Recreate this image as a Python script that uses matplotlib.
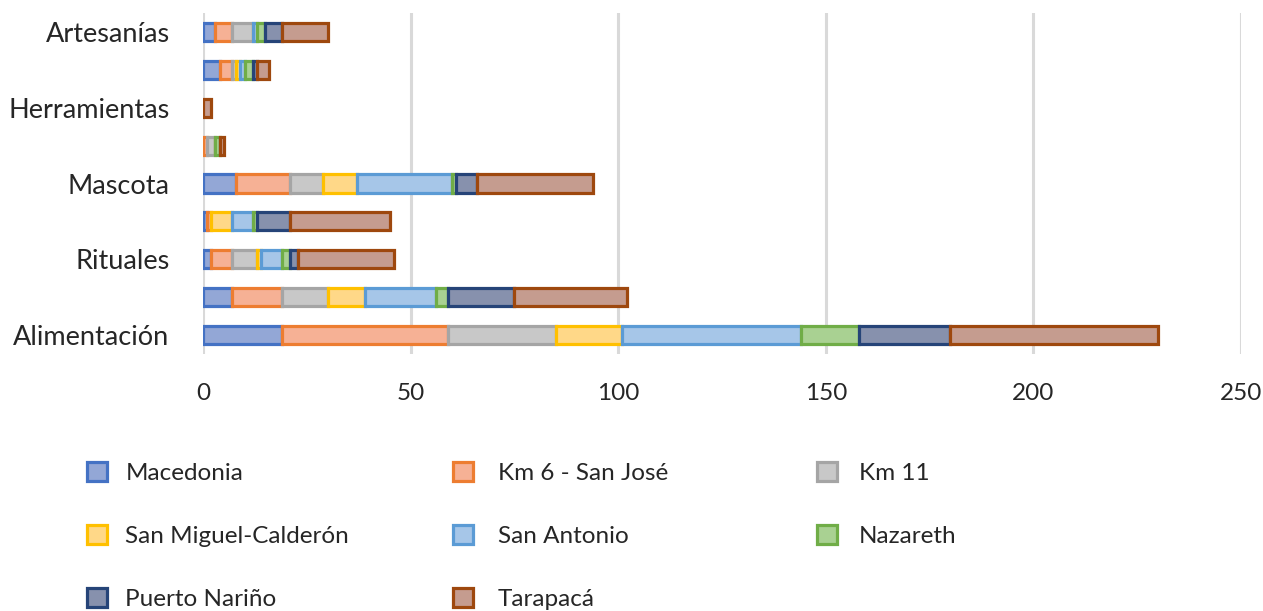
import numpy as np
from matplotlib import pyplot as plt

plt.rcParams['font.family'] = ['Lato', 'DejaVu Sans']

# categorias de abajo hacia arriba (solo se rotulan algunas)
categorias = ['Alimentación', '', 'Rituales', '', 'Mascota', '', 'Herramientas', '', 'Artesanías']

series = ['Macedonia', 'Km 6 - San José', 'Km 11', 'San Miguel-Calderón',
          'San Antonio', 'Nazareth', 'Puerto Nariño', 'Tarapacá']

macedonia = [19, 7, 2, 1, 8, 0, 0, 4, 3]
km6 = [40, 12, 5, 1, 13, 1, 0, 3, 4]
km11 = [26, 11, 6, 0, 8, 2, 0, 1, 5]
san_miguel = [16, 9, 1, 5, 8, 0, 0, 1, 0]
san_antonio = [43, 17, 5, 5, 23, 0, 0, 1, 1]
nazareth = [14, 3, 2, 1, 1, 1, 0, 2, 2]
puerto_narino = [22, 16, 2, 8, 5, 0, 0, 1, 4]
tarapaca = [50, 27, 23, 24, 28, 1, 2, 3, 11]

valores = [macedonia, km6, km11, san_miguel, san_antonio, nazareth, puerto_narino, tarapaca]

bordes = ['#4472C4', '#ED7D31', '#A5A5A5', '#FFC000', '#5B9BD5', '#70AD47', '#264478', '#9E480E']
rellenos = ['#93A7D6', '#F6B195', '#C8C8C8', '#FFD888', '#A6C6E8', '#A9D192', '#8791AD', '#C59C8F']

fig = plt.figure(figsize=(12.63, 6.11), dpi=100)
ax = fig.add_axes([203 / 1263, 1 - 354 / 611, (1241 - 203) / 1263, (354 - 13) / 611])

y = np.arange(len(categorias))
izquierda = np.zeros(len(categorias))
barras = []
for nombre, v, borde, relleno in zip(series, valores, bordes, rellenos):
    b = ax.barh(y, v, left=izquierda, height=0.48, color=relleno, edgecolor=borde,
                linewidth=2.3, label=nombre, zorder=3)
    barras.append(b)
    izquierda += np.array(v)

ax.set_xlim(0, 250)
ax.set_ylim(-0.5, 8.5)
ax.set_xticks([0, 50, 100, 150, 200, 250])
ax.set_yticks(y)
ax.set_yticklabels(categorias)
ax.tick_params(axis='x', length=0, pad=21, labelsize=17.5, labelcolor='#262626')
ax.tick_params(axis='y', length=0, pad=24, labelsize=19.5, labelcolor='#262626')
ax.grid(axis='x', color='#D9D9D9', linewidth=2.2, zorder=0)
for s in ax.spines.values():
    s.set_visible(False)

# leyenda en tres columnas
columnas = [[0, 3, 6], [1, 4, 7], [2, 5]]
xs = [87, 453, 817]
pads = [0.76, 1.02, 0.9]
for col, x, pad in zip(columnas, xs, pads):
    fig.legend([barras[i] for i in col], [series[i] for i in col],
               loc='upper left', bbox_to_anchor=(x / 1263, 1 - 462 / 611),
               frameon=False, fontsize=17.5, handlelength=0.82, handleheight=0.82,
               handletextpad=pad, labelspacing=1.7, labelcolor='#262626',
               borderaxespad=0, borderpad=0)

plt.savefig('out.png', dpi=100)
